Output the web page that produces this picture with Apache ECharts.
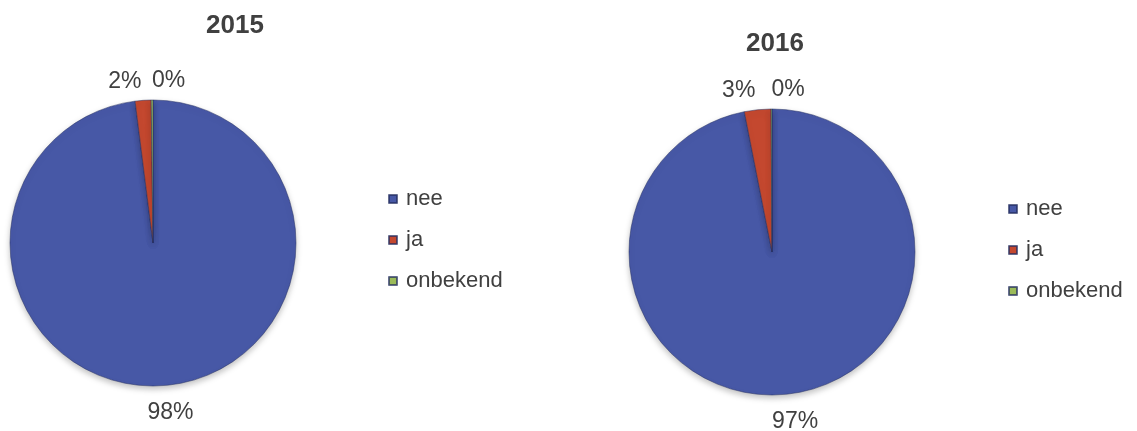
<!DOCTYPE html>
<html>
<head>
<meta charset="utf-8">
<script src="https://cdn.jsdelivr.net/npm/echarts@6/dist/echarts.min.js"></script>
<style>
  html, body { margin: 0; padding: 0; background: #fff; }
  #chart { width: 1137px; height: 431px; }
</style>
</head>
<body>
<div id="chart"></div>
<script>
// categorieen en percentages per jaar
var categories = ['nee', 'ja', 'onbekend'];
var years = ['2015', '2016'];
var values2015 = [98.0, 1.8, 0.2];
var values2016 = [96.9, 3.0, 0.1];

var colors = ['#4758a6', '#c4482f', '#9bbb59'];
var textColor = '#404040';
var font = 'Liberation Sans, Arial, sans-serif';

// uitlijning van de labels zoals in Excel
var labelAlign = ['center', 'right', 'left'];
var labelShiftX = [7, 0, 0];

function toData(values) {
  return categories.map(function (name, i) {
    return { name: name, value: values[i] };
  });
}

function pieSeries(values, center) {
  return {
    type: 'pie',
    radius: 143,
    center: center,
    startAngle: 90,
    clockwise: true,
    percentPrecision: 0,
    avoidLabelOverlap: false,
    data: toData(values),
    itemStyle: {
      borderColor: 'rgba(35,45,95,0.7)',
      borderWidth: 0.7,
      shadowBlur: 6,
      shadowOffsetY: 3,
      shadowColor: 'rgba(0,0,0,0.25)'
    },
    label: {
      position: 'outside',
      formatter: '{d}%',
      color: textColor,
      fontFamily: font,
      fontSize: 23,
      distanceToLabelLine: 0
    },
    labelLine: { show: false, length: 23, length2: 0 },
    labelLayout: function (p) {
      return { align: labelAlign[p.dataIndex], dx: labelShiftX[p.dataIndex], dy: 4 };
    },
    emphasis: { disabled: true }
  };
}

var chart = echarts.init(document.getElementById('chart'));

var legendBase = {
  orient: 'vertical',
  icon: 'rect',
  itemWidth: 8,
  itemHeight: 8,
  itemGap: 19,
  padding: 0,
  data: categories,
  selectedMode: false,
  textStyle: { color: textColor, fontFamily: font, fontSize: 22, padding: [0, 0, 0, 4] }
};

var titleStyle = { color: textColor, fontFamily: font, fontSize: 26, fontWeight: 'bold' };

var option = {
  color: colors,
  animation: false,
  title: [
    { text: years[0], left: 235, top: 13, padding: 0, textAlign: 'center', textStyle: titleStyle },
    { text: years[1], left: 775, top: 31, padding: 0, textAlign: 'center', textStyle: titleStyle }
  ],
  legend: [
    Object.assign({ left: 388, top: 188 }, legendBase),
    Object.assign({ left: 1008, top: 198 }, legendBase)
  ],
  series: [
    pieSeries(values2015, [153, 243]),
    pieSeries(values2016, [772, 252])
  ]
};

chart.setOption(option);
</script>
</body>
</html>
